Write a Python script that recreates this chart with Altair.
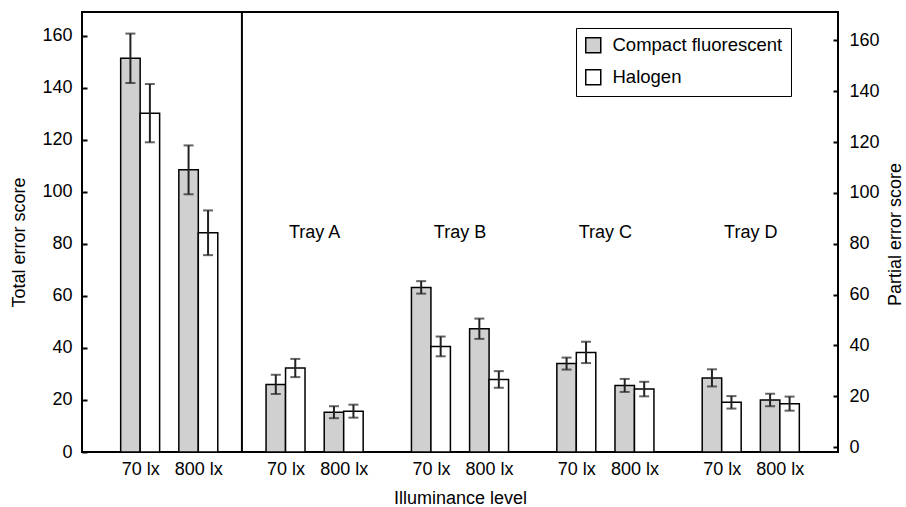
import altair as alt
import pandas as pd

groups = ["Total", "Tray A", "Tray B", "Tray C", "Tray D"]
levels = ["70 lx", "800 lx"]
lamps = ["Compact fluorescent", "Halogen"]

cf_70_mean = [151.4, 26.0, 63.3, 34.0, 28.5]
cf_70_err = [9.5, 3.7, 2.4, 2.3, 3.3]
h_70_mean = [130.3, 32.3, 40.6, 38.3, 19.1]
h_70_err = [11.2, 3.5, 3.8, 4.1, 2.4]
cf_800_mean = [108.5, 15.3, 47.4, 25.6, 20.0]
cf_800_err = [9.4, 2.3, 3.9, 2.5, 2.4]
h_800_mean = [84.3, 15.7, 27.9, 24.2, 18.6]
h_800_err = [8.6, 2.5, 3.2, 2.8, 2.7]

y_ticks = [0, 20, 40, 60, 80, 100, 120, 140, 160]

FONT = "Liberation Sans"
YMAX = 169.2
BW = 0.67

series = {
    ("70 lx", "Compact fluorescent"): (cf_70_mean, cf_70_err),
    ("70 lx", "Halogen"): (h_70_mean, h_70_err),
    ("800 lx", "Compact fluorescent"): (cf_800_mean, cf_800_err),
    ("800 lx", "Halogen"): (h_800_mean, h_800_err),
}

rows = []
for gi, g in enumerate(groups):
    for li, lv in enumerate(levels):
        slot = 2 + 5 * gi + 2 * li
        for ki, lamp in enumerate(lamps):
            m, e = series[(lv, lamp)]
            x0 = slot - BW if ki == 0 else slot
            rows.append(dict(group=g, level=lv, lamp=lamp, mean=m[gi], err=e[gi],
                             x0=x0, x1=x0 + BW, xc=x0 + BW / 2,
                             lo=m[gi] - e[gi], hi=m[gi] + e[gi]))
df = pd.DataFrame(rows)

tray_df = pd.DataFrame({"tray": groups[1:], "xc": [3 + 5 * gi for gi in range(1, len(groups))]})
div_df = pd.DataFrame({"x": [(4 + 7) / 2]})

xscale = alt.Scale(domain=[0, 26], nice=False, zero=False)
yscale = alt.Scale(domain=[0, YMAX], nice=False, zero=True)

tick_vals = [2 + 5 * gi + 2 * li for gi in range(len(groups)) for li in range(len(levels))]
label_expr = "(datum.value - 2) %% 5 == 0 ? '%s' : '%s'" % (levels[0], levels[1])

x_axis = alt.Axis(values=tick_vals, labelExpr=label_expr, ticks=False, domain=False, grid=False,
                  labelPadding=8, labelFontSize=18, labelColor="black",
                  title="Illuminance level", titleFontSize=18, titleFontWeight="normal",
                  titleColor="black", titleY=51, titleBaseline="alphabetic")

left_axis = alt.Axis(values=y_ticks, orient="left", offset=-5, tickSize=5, tickWidth=2,
                     tickColor="black", domain=False, grid=False, labelPadding=10,
                     labelFontSize=18, labelColor="black",
                     title="Total error score", titleFontSize=18, titleFontWeight="normal",
                     titleColor="black", titleAngle=270, titleX=-63, titleY=230,
                     titleBaseline="alphabetic", titleAlign="center")

right_axis = alt.Axis(values=y_ticks, orient="right", offset=-5, tickSize=5, tickWidth=2,
                      tickColor="black", domain=False, grid=False, labelPadding=11,
                      labelFontSize=18, labelColor="black",
                      title="Partial error score", titleFontSize=18, titleFontWeight="normal",
                      titleColor="black", titleAngle=270, titleX=67, titleY=222,
                      titleBaseline="alphabetic", titleAlign="center")

XT = "Illuminance level"
YT = "Total error score"

base = alt.Chart(df)

bars = base.mark_bar(stroke="black", strokeWidth=1.5).encode(
    x=alt.X("x0:Q", scale=xscale, axis=x_axis, title=XT),
    x2="x1:Q",
    y=alt.Y("mean:Q", scale=yscale, axis=left_axis, title=YT),
    y2=alt.Y2(datum=0),
    color=alt.Color("lamp:N",
                    scale=alt.Scale(domain=lamps, range=["#d0d0d0", "#ffffff"]),
                    legend=alt.Legend(title=None, orient="none", legendX=494, legendY=16,
                                      symbolType="square", symbolSize=225,
                                      symbolStrokeColor="black", symbolStrokeWidth=1.5,
                                      labelFontSize=18.5, labelColor="black", labelOffset=10,
                                      padding=8, rowPadding=10, strokeColor="black",
                                      fillColor="white", labelLimit=400)),
)

err_rule = base.mark_rule(color="#222222", strokeWidth=2).encode(
    x=alt.X("xc:Q", scale=xscale, axis=x_axis, title=XT),
    y=alt.Y("lo:Q", scale=yscale, axis=left_axis, title=YT),
    y2="hi:Q",
)
cap_lo = base.mark_tick(color="#222222", orient="horizontal", size=10, thickness=2).encode(
    x=alt.X("xc:Q", scale=xscale, axis=x_axis, title=XT),
    y=alt.Y("lo:Q", scale=yscale, axis=left_axis, title=YT),
)
cap_hi = base.mark_tick(color="#222222", orient="horizontal", size=10, thickness=2).encode(
    x=alt.X("xc:Q", scale=xscale, axis=x_axis, title=XT),
    y=alt.Y("hi:Q", scale=yscale, axis=left_axis, title=YT),
)

divider = alt.Chart(div_df).mark_rule(color="black", strokeWidth=2).encode(
    x=alt.X("x:Q", scale=xscale, axis=x_axis, title=XT),
)

trays = alt.Chart(tray_df).mark_text(fontSize=18, font=FONT, color="black",
                                     baseline="alphabetic").encode(
    x=alt.X("xc:Q", scale=xscale, axis=x_axis, title=XT),
    y=alt.Y(datum=82.3, scale=yscale, axis=left_axis, title=YT),
    text="tray:N",
)

inner = alt.layer(bars, err_rule, cap_lo, cap_hi, divider, trays)

right = base.mark_bar(opacity=0).encode(
    x=alt.X("x0:Q", scale=xscale, axis=x_axis, title=XT),
    x2="x1:Q",
    y=alt.Y("mean:Q", scale=yscale, axis=right_axis, title="Partial error score"),
)

chart = alt.layer(inner, right).resolve_scale(y="independent").properties(
    width=756, height=440, autosize="none",
    padding={"left": 82, "top": 12, "right": 68, "bottom": 55},
).configure(font=FONT).configure_view(stroke="black", strokeWidth=2)

chart.save("out.html", embed_options={"renderer": "svg", "actions": False})
